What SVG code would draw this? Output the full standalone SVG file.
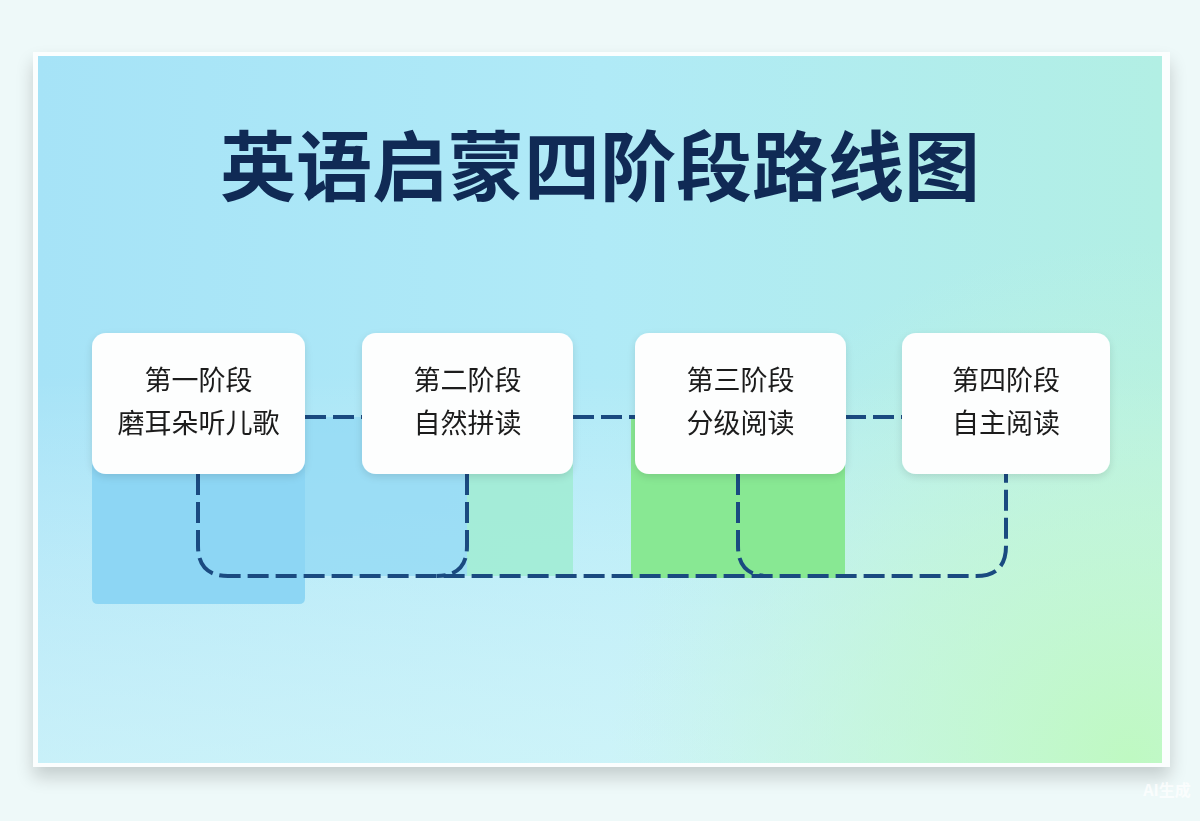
<svg xmlns="http://www.w3.org/2000/svg" width="1200" height="821" viewBox="0 0 1200 821">
  <defs>
    <linearGradient id="bgH" x1="0" y1="0" x2="1" y2="0">
      <stop offset="0" stop-color="#a6e3f7"/>
      <stop offset="0.5" stop-color="#b0eaf7"/>
      <stop offset="1" stop-color="#b2efe4"/>
    </linearGradient>
    <linearGradient id="bgV" x1="0" y1="0" x2="0" y2="1">
      <stop offset="0" stop-color="#ffffff" stop-opacity="0"/>
      <stop offset="0.45" stop-color="#ffffff" stop-opacity="0"/>
      <stop offset="1" stop-color="#e4fbfa" stop-opacity="0.55"/>
    </linearGradient>
    <radialGradient id="bgG" cx="1130" cy="760" r="520" gradientUnits="userSpaceOnUse">
      <stop offset="0" stop-color="#bff9c2" stop-opacity="1"/>
      <stop offset="0.5" stop-color="#c2f7d0" stop-opacity="0.6"/>
      <stop offset="1" stop-color="#c6f5e0" stop-opacity="0"/>
    </radialGradient>
    <filter id="frameShadow" x="-5%" y="-5%" width="110%" height="120%">
      <feGaussianBlur in="SourceAlpha" stdDeviation="9"/>
      <feOffset dy="10"/>
      <feComponentTransfer><feFuncA type="linear" slope="0.18"/></feComponentTransfer>
      <feMerge><feMergeNode/><feMergeNode in="SourceGraphic"/></feMerge>
    </filter>
    <filter id="nodeShadow" x="-10%" y="-10%" width="120%" height="130%">
      <feGaussianBlur in="SourceAlpha" stdDeviation="4"/>
      <feOffset dy="3"/>
      <feComponentTransfer><feFuncA type="linear" slope="0.12"/></feComponentTransfer>
      <feMerge><feMergeNode/><feMergeNode in="SourceGraphic"/></feMerge>
    </filter>
  </defs>
  <style>
    .node rect { fill: #fdfefe; }
    .node text { font-family: "Noto Sans CJK SC", "Noto Sans", sans-serif; font-size: 27px; fill: #1b1b1b; text-anchor: middle; font-weight: 400; }
    .dash { fill: none; stroke: #1a4a80; stroke-width: 4; stroke-dasharray: 21 7; stroke-linecap: butt; }
    .title { font-family: "Noto Sans CJK SC", "Noto Sans", sans-serif; font-size: 76px; font-weight: 700; fill: #102a55; text-anchor: middle; }
  </style>

  <!-- page background -->
  <rect x="0" y="0" width="1200" height="821" fill="#eef9f9"/>

  <!-- frame -->
  <g id="frame">
    <rect x="33" y="52" width="1137" height="715" fill="#fbfefe" filter="url(#frameShadow)"/>
    <rect x="38" y="56" width="1124" height="707" fill="url(#bgH)"/>
    <rect x="38" y="56" width="1124" height="707" fill="url(#bgV)"/>
    <rect x="38" y="56" width="1124" height="707" fill="url(#bgG)"/>
  </g>

  <!-- title -->
  <text class="title" x="600" y="195">英语启蒙四阶段路线图</text>

  <!-- colored blocks -->
  <g id="blocks">
    <rect x="305" y="417" width="162" height="159" fill="#93d9f4" opacity="0.8"/>
    <path d="M92,417 H305 V598 Q305,604 299,604 H98 Q92,604 92,598 Z" fill="#8dd6f4"/>
    <rect x="467" y="417" width="106" height="159" fill="#a2ecd6" opacity="0.95"/>
    <rect x="631" y="417" width="214" height="161" fill="#88e893"/>
  </g>

  <!-- connectors -->
  <g id="connectors">
    <path class="dash" d="M305,417 H362"/>
    <path class="dash" d="M573,417 H635"/>
    <path class="dash" d="M845,417 H903"/>
    <path class="dash" d="M198,474 V546 Q198,576 228,576 H976 Q1006,576 1006,546 V474"/>
    <path class="dash" d="M467,474 V546 Q467,576 437,576"/>
    <path class="dash" d="M738,474 V546 Q738,576 768,576"/>
  </g>

  <!-- nodes -->
  <g id="node1" class="node" filter="url(#nodeShadow)">
    <rect x="92" y="333" width="213" height="141" rx="14"/>
    <text x="198.5" y="390">第一阶段</text>
    <text x="198.5" y="433">磨耳朵听儿歌</text>
  </g>
  <g id="node2" class="node" filter="url(#nodeShadow)">
    <rect x="362" y="333" width="211" height="141" rx="14"/>
    <text x="467.5" y="390">第二阶段</text>
    <text x="467.5" y="433">自然拼读</text>
  </g>
  <g id="node3" class="node" filter="url(#nodeShadow)">
    <rect x="635" y="333" width="211" height="141" rx="14"/>
    <text x="740.5" y="390">第三阶段</text>
    <text x="740.5" y="433">分级阅读</text>
  </g>
  <g id="node4" class="node" filter="url(#nodeShadow)">
    <rect x="902" y="333" width="208" height="141" rx="14"/>
    <text x="1006" y="390">第四阶段</text>
    <text x="1006" y="433">自主阅读</text>
  </g>

  <!-- watermark -->
  <text x="1167" y="796" font-family="Noto Sans CJK SC, sans-serif" font-size="16" font-weight="700" fill="#ffffff" fill-opacity="0.75" text-anchor="middle">AI生成</text>
</svg>
